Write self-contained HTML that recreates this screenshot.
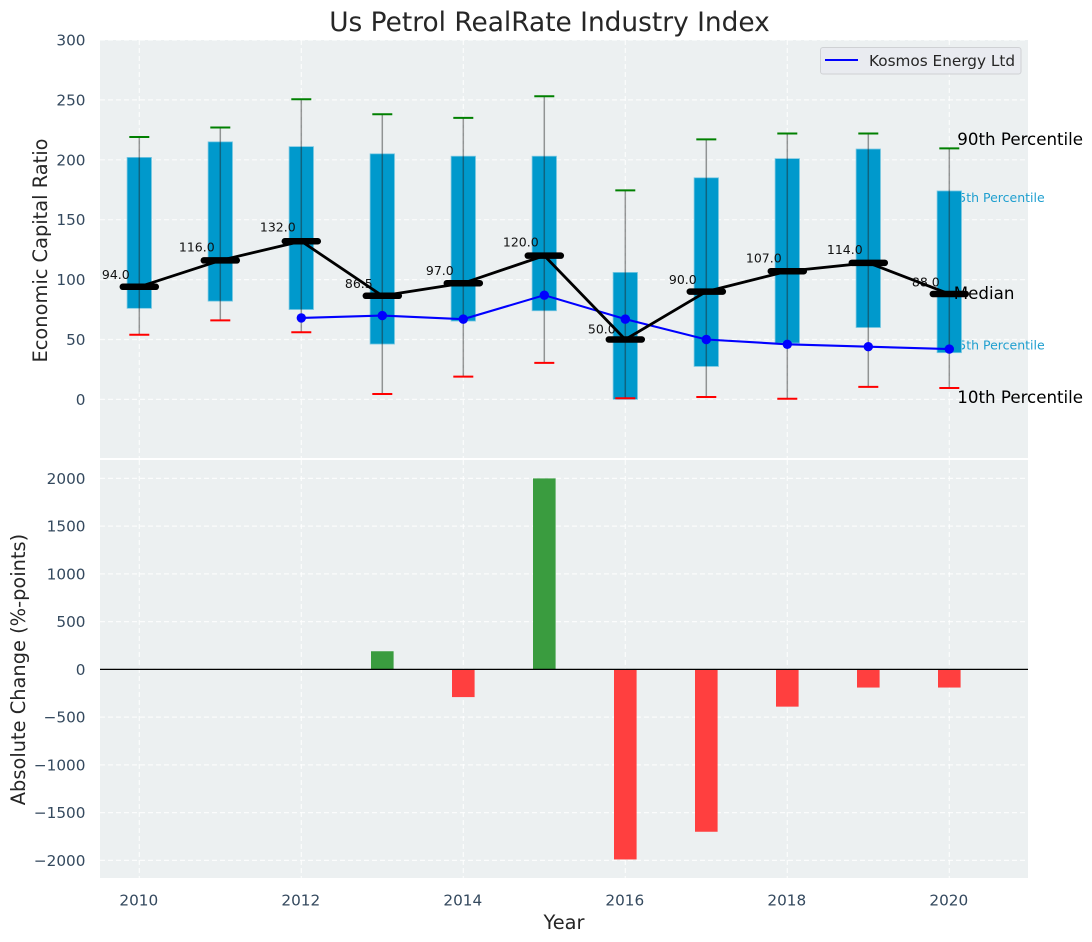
<!DOCTYPE html>
<html lang="en">
<head>
<meta charset="utf-8">
<title>Us Petrol RealRate Industry Index</title>
<style>
html,body{margin:0;padding:0;background:#fff;}
svg{display:block;font-family:"DejaVu Sans","Liberation Sans",sans-serif;}
</style>
</head>
<body>
<svg id="chart" xmlns="http://www.w3.org/2000/svg" width="1092" height="942" viewBox="0 0 1092 942">
  <rect x="0" y="0" width="1092" height="942" fill="#ffffff"/>
  <text x="549.5" y="31" font-size="26.4px" fill="#262626" text-anchor="middle">Us Petrol RealRate Industry Index</text>
  <rect x="100" y="40" width="928" height="418" fill="#ecf0f1"/>
  <rect x="100" y="460" width="928" height="418" fill="#ecf0f1"/>
  <g id="upper"></g>
  <g id="lower"></g>
  <g id="ticks"></g>
  <text transform="translate(47,250.5) rotate(-90)" font-size="19.4px" fill="#262626" text-anchor="middle">Economic Capital Ratio</text>
  <text transform="translate(25,669.5) rotate(-90)" font-size="19.4px" fill="#262626" text-anchor="middle">Absolute Change (%-points)</text>
  <text x="564" y="929" font-size="19.4px" fill="#262626" text-anchor="middle">Year</text>
  <g>
    <rect x="820.5" y="47.5" width="200.5" height="26.5" rx="2.5" fill="#e9ebf0" stroke="#cfd1d4" stroke-width="1"/>
    <line x1="825" y1="60" x2="858" y2="60" stroke="#0000ff" stroke-width="2"/>
    <text x="869" y="66" font-size="15.28px" fill="#262626">Kosmos Energy Ltd</text>
  </g>
</svg>
<script>
const years = [2010, 2011, 2012, 2013, 2014, 2015, 2016, 2017, 2018, 2019, 2020];
const p10 = [54, 66, 56, 4.5, 19, 30.5, 1, 2, 0.5, 10.5, 9.5];
const p25 = [76, 82, 75, 46.2, 65.4, 74, 0, 27.5, 47, 60, 39];
const medians = [94, 116, 132, 86.5, 97, 120, 50, 90, 107, 114, 88];
const p75 = [202, 215, 211, 205, 203, 203, 106, 185, 201, 209, 174];
const p90 = [219, 227, 250.5, 238, 235, 253, 174.5, 217, 222, 222, 209.5];
const kosmosYears = [2012, 2013, 2014, 2015, 2016, 2017, 2018, 2019, 2020];
const kosmos = [68, 70, 67, 87, 67, 50, 46, 44, 42];
const changeYears = [2013, 2014, 2015, 2016, 2017, 2018, 2019, 2020];
const changes = [190, -290, 2000, -1990, -1700, -390, -190, -190];
const xTicks = [2010, 2012, 2014, 2016, 2018, 2020];
const upperTicks = [0, 50, 100, 150, 200, 250, 300];
const lowerTicks = [-2000, -1500, -1000, -500, 0, 500, 1000, 1500, 2000];

const NS = 'http://www.w3.org/2000/svg';
const upper = document.getElementById('upper');
const lower = document.getElementById('lower');
const ticks = document.getElementById('ticks');

function xScale(v) { return 139.3 + (v - 2010) * 81; }
function yUpper(v) { return 399.4 - v * 1.198; }
function yLower(v) { return 669.4 - v * 0.0955; }

function make(parent, tag, attrs, text) {
  const node = document.createElementNS(NS, tag);
  for (const key in attrs) node.setAttribute(key, attrs[key]);
  if (text !== undefined) node.textContent = text;
  parent.appendChild(node);
  return node;
}
const gridStyle = { stroke: '#ffffff', 'stroke-width': 1.2, 'stroke-dasharray': '5 3', 'stroke-opacity': 0.8 };
let el;

xTicks.forEach(function (t) {
  el = make(upper, 'line', Object.assign({ x1: xScale(t), x2: xScale(t), y1: 40, y2: 458 }, gridStyle));
  
  
  el = make(lower, 'line', Object.assign({ x1: xScale(t), x2: xScale(t), y1: 460, y2: 878 }, gridStyle));
  
  
  el = make(ticks, 'text', { x: xScale(t) - 0.5, y: 905.5, 'font-size': '15.28px', fill: '#34495e', 'text-anchor': 'middle' }, String(t));
  
  
});
upperTicks.forEach(function (t) {
  el = make(upper, 'line', Object.assign({ x1: 100, x2: 1028, y1: yUpper(t), y2: yUpper(t) }, gridStyle));
  
  
  el = make(ticks, 'text', { x: 85.5, y: yUpper(t) + 5.5, 'font-size': '15.28px', fill: '#34495e', 'text-anchor': 'end' }, String(t));
  
  
});
lowerTicks.forEach(function (t) {
  el = make(lower, 'line', Object.assign({ x1: 100, x2: 1028, y1: yLower(t), y2: yLower(t) }, gridStyle));
  
  
  el = make(ticks, 'text', { x: 85.5, y: yLower(t) + 5.5, 'font-size': '15.28px', fill: '#34495e', 'text-anchor': 'end' }, String(t).replace('-', '\u2212'));
  
  
});

const last = years.length - 1;
const lastX = xScale(years[last]);

/* percentile captions that sit beneath the boxes */
el = make(upper, 'text', { x: lastX + 1, y: yUpper(p75[last]) + 11, 'font-size': '12.5px', fill: '#1f9fcf' }, '75th Percentile');


el = make(upper, 'text', { x: lastX + 1, y: yUpper(p25[last]) - 3, 'font-size': '12.5px', fill: '#1f9fcf' }, '25th Percentile');



/* boxes, whiskers, caps */
years.forEach(function (yr, i) {
  const cx = xScale(yr);
  el = make(upper, 'rect', { x: cx - 12.2, y: yUpper(p75[i]), width: 24.4, height: yUpper(p25[i]) - yUpper(p75[i]), fill: '#0099cc', stroke: '#7cc8e2', 'stroke-width': 0.8 });
  
  
  el = make(upper, 'line', { x1: cx, x2: cx, y1: yUpper(p90[i]), y2: yUpper(p10[i]), stroke: '#222222', 'stroke-opacity': 0.45, 'stroke-width': 1.5 });
  
  
  el = make(upper, 'line', { x1: cx - 10, x2: cx + 10, y1: yUpper(p90[i]), y2: yUpper(p90[i]), stroke: '#008000', 'stroke-width': 2 });
  
  
  el = make(upper, 'line', { x1: cx - 10, x2: cx + 10, y1: yUpper(p10[i]), y2: yUpper(p10[i]), stroke: '#ff0000', 'stroke-width': 2 });
  
  
});

/* median value labels, above the boxes but below the lines */
years.forEach(function (yr, i) {
  el = make(upper, 'text', { x: xScale(yr) - 23.5, y: yUpper(medians[i] * 1.04) - 3.4, 'font-size': '12.5px', fill: '#111111', 'text-anchor': 'middle' }, medians[i].toFixed(1));
  
  
});

/* Kosmos series */
el = make(upper, 'polyline', { points: kosmosYears.map(function (yr, i) { return xScale(yr) + ',' + yUpper(kosmos[i]); }).join(' '), fill: 'none', stroke: '#0000ff', 'stroke-width': 2.1 });


kosmosYears.forEach(function (yr, i) {
  el = make(upper, 'circle', { cx: xScale(yr), cy: yUpper(kosmos[i]), r: 4.7, fill: '#0000ff' });
  
  
});

/* median series */
el = make(upper, 'polyline', { points: years.map(function (yr, i) { return xScale(yr) + ',' + yUpper(medians[i]); }).join(' '), fill: 'none', stroke: '#000000', 'stroke-width': 2.8 });


years.forEach(function (yr, i) {
  el = make(upper, 'line', { x1: xScale(yr) - 16.5, x2: xScale(yr) + 16.5, y1: yUpper(medians[i]), y2: yUpper(medians[i]), stroke: '#000000', 'stroke-width': 6.5, 'stroke-linecap': 'round' });
  
  
});

/* percentile captions on top */
el = make(upper, 'text', { x: lastX + 8, y: yUpper(p90[last]) - 3.5, 'font-size': '16.67px', fill: '#000000' }, '90th Percentile');


el = make(upper, 'text', { x: lastX + 4.5, y: yUpper(medians[last]) + 5, 'font-size': '16.67px', fill: '#000000' }, 'Median');


el = make(upper, 'text', { x: lastX + 8, y: yUpper(p10[last]) + 15, 'font-size': '16.67px', fill: '#000000' }, '10th Percentile');



/* change bars */
changeYears.forEach(function (yr, i) {
  const top = Math.min(yLower(changes[i]), yLower(0));
  const h = Math.abs(yLower(changes[i]) - yLower(0));
  el = make(lower, 'rect', { x: xScale(yr) - 11.3, y: top, width: 22.6, height: h, fill: changes[i] >= 0 ? '#3a9c3f' : '#ff3f3f' });
  
  
});
el = make(lower, 'line', { x1: 100, x2: 1028, y1: yLower(0), y2: yLower(0), stroke: '#000000', 'stroke-width': 1.3 });


</script>
</body>
</html>
